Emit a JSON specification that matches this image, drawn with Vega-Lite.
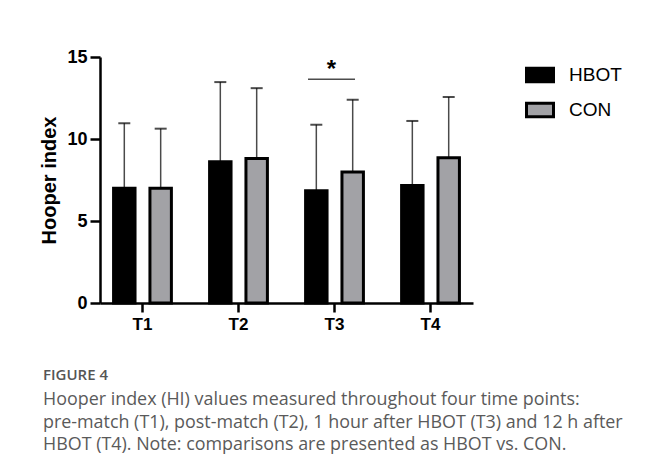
{
  "$schema": "https://vega.github.io/schema/vega-lite/v6.json",
  "width": 373,
  "height": 246,
  "padding": {"left": 39, "top": 48, "right": 5, "bottom": 5},
  "background": "white",
  "config": {
    "view": {"stroke": null},
    "font": "Liberation Sans"
  },
  "title": {
    "text": "FIGURE 4",
    "subtitle": [
      "Hooper index (HI) values measured throughout four time points:",
      "pre-match (T1), post-match (T2), 1 hour after HBOT (T3) and 12 h after",
      "HBOT (T4). Note: comparisons are presented as HBOT vs. CON."
    ],
    "orient": "bottom",
    "anchor": "start",
    "frame": "bounds",
    "dx": 3,
    "offset": 36,
    "font": "Open Sans",
    "fontSize": 15,
    "fontWeight": 600,
    "color": "#555555",
    "subtitleFont": "Open Sans",
    "subtitleFontSize": 17.9,
    "subtitleColor": "#5a5a5a",
    "subtitleLineHeight": 22.5,
    "subtitlePadding": 8
  },
  "data": {
    "values": [
      {"time": "T1", "group": "HBOT", "mean": 7.0, "upper": 10.96},
      {"time": "T1", "group": "CON", "mean": 7.0, "upper": 10.63},
      {"time": "T2", "group": "HBOT", "mean": 8.62, "upper": 13.47},
      {"time": "T2", "group": "CON", "mean": 8.81, "upper": 13.1},
      {"time": "T3", "group": "HBOT", "mean": 6.84, "upper": 10.87},
      {"time": "T3", "group": "CON", "mean": 7.99, "upper": 12.4},
      {"time": "T4", "group": "HBOT", "mean": 7.16, "upper": 11.1},
      {"time": "T4", "group": "CON", "mean": 8.85, "upper": 12.56}
    ]
  },
  "encoding": {
    "x": {
      "field": "time",
      "type": "nominal",
      "scale": {"paddingInner": 0.375, "paddingOuter": 0.13},
      "axis": {
        "title": null,
        "labelAngle": 0,
        "labelFont": "Liberation Sans",
        "labelFontWeight": "bold",
        "labelFontSize": 17,
        "labelColor": "black",
        "labelPadding": 4,
        "domainColor": "black",
        "domainWidth": 2.5,
        "tickColor": "black",
        "tickWidth": 2.5,
        "tickSize": 9
      }
    },
    "xOffset": {
      "field": "group",
      "type": "nominal",
      "sort": ["HBOT", "CON"],
      "scale": {"paddingInner": 0.41, "paddingOuter": 0.03}
    }
  },
  "layer": [
    {
      "mark": {"type": "rule", "color": "#4a4a4a", "strokeWidth": 1.5},
      "encoding": {
        "y": {"field": "mean", "type": "quantitative"},
        "y2": {"field": "upper"}
      }
    },
    {
      "mark": {"type": "tick", "color": "black", "size": 12, "thickness": 2, "orient": "horizontal"},
      "encoding": {
        "y": {"field": "upper", "type": "quantitative"}
      }
    },
    {
      "mark": {"type": "bar", "stroke": "black", "strokeWidth": 3},
      "encoding": {
        "y": {
          "field": "mean",
          "type": "quantitative",
          "scale": {"domain": [0, 15], "nice": false},
          "axis": {
            "values": [0, 5, 10, 15],
            "title": "Hooper index",
            "titleFont": "Liberation Sans",
            "titleFontSize": 20,
            "titleFontWeight": "bold",
            "titleColor": "black",
            "titlePadding": 7,
            "labelFont": "Liberation Sans",
            "labelFontWeight": "bold",
            "labelFontSize": 18,
            "labelColor": "black",
            "labelPadding": 3,
            "domainColor": "black",
            "domainWidth": 2.5,
            "tickColor": "black",
            "tickWidth": 2.5,
            "tickSize": 10,
            "grid": false
          }
        },
        "fill": {
          "field": "group",
          "type": "nominal",
          "sort": ["HBOT", "CON"],
          "scale": {"domain": ["HBOT", "CON"], "range": ["#000000", "#a2a2a6"]},
          "legend": {
            "title": null,
            "orient": "right",
            "offset": 49,
            "symbolType": "M-1,-0.5H1V0.5H-1Z",
            "symbolSize": 729,
            "symbolStrokeColor": "black",
            "symbolStrokeWidth": 3,
            "symbolOpacity": 1,
            "labelFont": "Liberation Sans",
            "labelFontSize": 19,
            "labelColor": "black",
            "labelOffset": 14,
            "rowPadding": 7,
            "padding": 3
          }
        }
      }
    },
    {
      "data": {"values": [{"time": "T3", "y": 13.65, "label": "*", "ty": 13.8}]},
      "mark": {"type": "tick", "color": "black", "size": 47, "thickness": 1.5, "orient": "horizontal", "xOffset": -3},
      "encoding": {
        "x": {"field": "time", "type": "nominal"},
        "xOffset": null,
        "y": {"field": "y", "type": "quantitative"}
      }
    },
    {
      "data": {"values": [{"time": "T3", "y": 13.65, "label": "*", "ty": 13.8}]},
      "mark": {"type": "text", "font": "Liberation Sans", "fontSize": 24, "fontWeight": "bold", "baseline": "alphabetic", "color": "black", "dx": -3},
      "encoding": {
        "x": {"field": "time", "type": "nominal"},
        "xOffset": null,
        "y": {"field": "ty", "type": "quantitative"},
        "text": {"field": "label"}
      }
    }
  ]
}
